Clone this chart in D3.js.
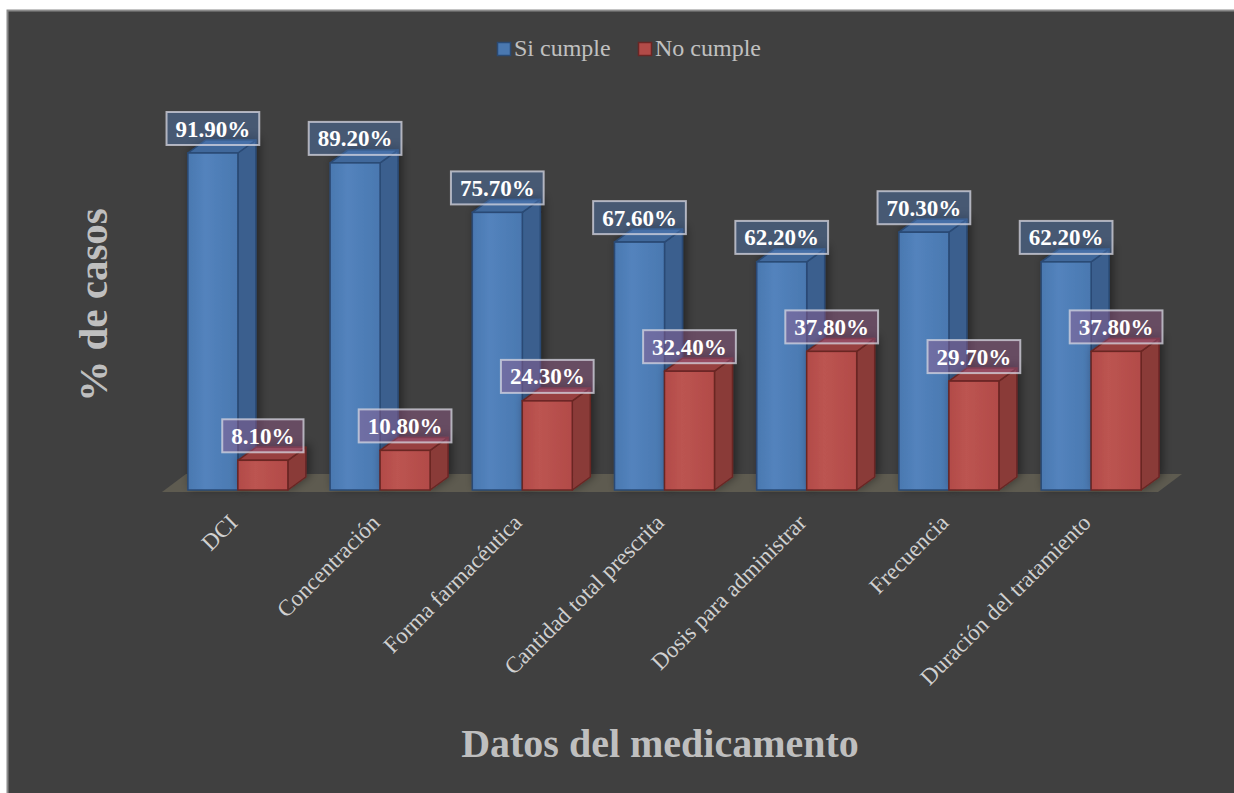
<!DOCTYPE html>
<html>
<head>
<meta charset="utf-8">
<script src="https://cdn.jsdelivr.net/npm/d3@7"></script>
<style>
  html, body { margin: 0; padding: 0; background: #ffffff; }
  svg { display: block; }
</style>
</head>
<body>
<svg id="chart" width="1234" height="793"></svg>
<script>
// ---- data ----
const categories = ["DCI", "Concentración", "Forma farmacéutica", "Cantidad total prescrita",
                    "Dosis para administrar", "Frecuencia", "Duración del tratamiento"];
const seriesNames = ["Si cumple", "No cumple"];
const siCumple = [91.9, 89.2, 75.7, 67.6, 62.2, 70.3, 62.2];
const noCumple = [8.1, 10.8, 24.3, 32.4, 37.8, 29.7, 37.8];
const xTitle = "Datos del medicamento";
const yTitle = "% de casos";

// ---- style ----
const FONT = "'Liberation Serif', 'Times New Roman', serif";
const pal = {
  "Si cumple": { front: "#4a78b0", frontL: "#5383bd", side: "#3a5f8e", top: "#3f689b", edge: "#2a4a74", label: "rgba(80,125,185,0.42)" },
  "No cumple": { front: "#b24b48", frontL: "#bc5451", side: "#8a3b39", top: "#98413f", edge: "#6a2624", label: "rgba(150,92,140,0.45)" }
};
const DX = 18, DY = -13;

const svg = d3.select("#chart");
const W = 1234, H = 793;

// background
svg.append("rect").attr("x", 7.5).attr("y", 10.5).attr("width", W).attr("height", H)
  .attr("fill", "#404040").attr("stroke", "#8a8a8a").attr("stroke-width", 2);

const defs = svg.append("defs");
const sh = defs.append("filter").attr("id", "shadow").attr("x", "-30%").attr("y", "-30%").attr("width", "160%").attr("height", "160%");
sh.append("feDropShadow").attr("dx", 3).attr("dy", -2).attr("stdDeviation", 5)
  .attr("flood-color", "#000").attr("flood-opacity", 0.45);
seriesNames.forEach((s, i) => {
  const g = defs.append("linearGradient").attr("id", "grad" + i).attr("x1", 0).attr("x2", 1).attr("y1", 0).attr("y2", 0);
  g.append("stop").attr("offset", "0%").attr("stop-color", pal[s].front);
  g.append("stop").attr("offset", "35%").attr("stop-color", pal[s].frontL);
  g.append("stop").attr("offset", "100%").attr("stop-color", pal[s].front);
});

// scales
const x = d3.scaleBand().domain(categories).range([166, 1163]).paddingInner(0.297).paddingOuter(0.154);
const x1 = d3.scaleBand().domain(seriesNames).range([0, x.bandwidth()]);
const y = d3.scaleLinear().domain([0, 100]).range([490, 123.3]);

// floor
const fx0 = 162, fx1 = 1158, fy = y(0) + 2, fdx = 24, fdy = -18;
svg.append("path")
  .attr("d", `M${fx0},${fy} L${fx1},${fy} L${fx1 + fdx},${fy + fdy} L${fx0 + fdx},${fy + fdy} Z`)
  .attr("fill", "#5e5b50");

// bars
const rows = categories.map((c, i) => ({ cat: c, vals: [siCumple[i], noCumple[i]] }));
const barsG = svg.append("g");
rows.forEach(r => {
  r.vals.forEach((v, si) => {
    const s = seriesNames[si];
    const x0 = x(r.cat) + x1(s), w = x1.bandwidth();
    const yt = y(v), yb = y(0);
    const g = barsG.append("g").attr("filter", "url(#shadow)");
    g.append("path")
      .attr("d", `M${x0 + w},${yb} L${x0 + w + DX},${yb + DY} L${x0 + w + DX},${yt + DY} L${x0 + w},${yt} Z`)
      .attr("fill", pal[s].side).attr("stroke", pal[s].edge).attr("stroke-width", 1.5).attr("stroke-linejoin", "round");
    g.append("path")
      .attr("d", `M${x0},${yt} L${x0 + w},${yt} L${x0 + w + DX},${yt + DY} L${x0 + DX},${yt + DY} Z`)
      .attr("fill", pal[s].top).attr("stroke", pal[s].edge).attr("stroke-width", 1.5).attr("stroke-linejoin", "round");
    g.append("rect").attr("x", x0).attr("y", yt).attr("width", w).attr("height", yb - yt)
      .attr("fill", `url(#grad${si})`).attr("stroke", pal[s].edge).attr("stroke-width", 1.5);
  });
});

// data labels
const fmt = d => d3.format(".2f")(d) + "%";
const labG = svg.append("g");
rows.forEach(r => {
  r.vals.forEach((v, si) => {
    const s = seriesNames[si];
    const cx = x(r.cat) + x1(s) + x1.bandwidth() / 2;
    const cy = y(v) - 24.5;
    const g = labG.append("g");
    const rect = g.append("rect");
    const t = g.append("text").attr("x", cx).attr("y", cy + 8)
      .attr("text-anchor", "middle").attr("font-family", FONT).attr("font-weight", "bold")
      .attr("font-size", 23).attr("fill", "#ffffff").text(fmt(v));
    const tw = t.node().getComputedTextLength();
    const bw = tw + 18, bh = 33;
    rect.attr("x", cx - bw / 2).attr("y", cy - bh / 2).attr("width", bw).attr("height", bh)
      .attr("fill", pal[s].label).attr("stroke", "rgba(215,215,225,0.75)").attr("stroke-width", 2);
  });
});

// x axis (labels only)
const xAxis = svg.append("g").attr("transform", "translate(0,0)")
  .call(d3.axisBottom(x).tickSize(0));
xAxis.select(".domain").remove();
xAxis.selectAll("text")
  .attr("x", null).attr("y", null).attr("dy", null)
  .attr("text-anchor", "end")
  .attr("transform", "translate(1,524) rotate(-45)")
  .attr("font-family", FONT).attr("font-size", 23).attr("fill", "#d0d0d0");

// axis titles
svg.append("text").attr("x", 660).attr("y", 757).attr("text-anchor", "middle")
  .attr("font-family", FONT).attr("font-weight", "bold").attr("font-size", 40)
  .attr("fill", "#bfbfbf").text(xTitle);
svg.append("text").attr("transform", "translate(107,305) rotate(-90)").attr("text-anchor", "middle")
  .attr("font-family", FONT).attr("font-weight", "bold").attr("font-size", 41)
  .attr("fill", "#bfbfbf").text(yTitle);

// legend
const legend = svg.append("g");
const legPos = [497, 638];
seriesNames.forEach((s, i) => {
  legend.append("rect").attr("x", legPos[i] + 0.5).attr("y", 42.5).attr("width", 13).attr("height", 13)
    .attr("fill", pal[s].front).attr("stroke", pal[s].edge).attr("stroke-width", 1.5);
  legend.append("text").attr("x", legPos[i] + 17).attr("y", 56)
    .attr("font-family", FONT).attr("font-size", 24).attr("fill", "#c0c0c0").text(s);
});
</script>
</body>
</html>
